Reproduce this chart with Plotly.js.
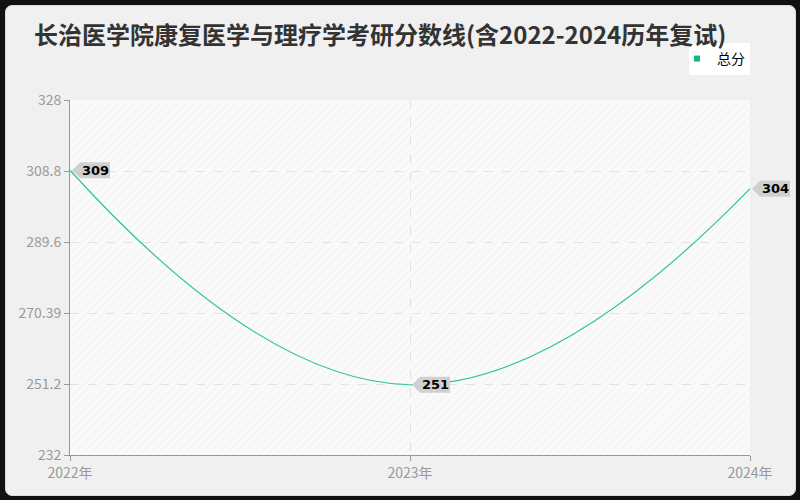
<!DOCTYPE html>
<html><head><meta charset="utf-8">
<script src="https://cdn.plot.ly/plotly-3.0.1.min.js"></script>
<style>
html,body{margin:0;padding:0;background:#111;width:800px;height:500px;overflow:hidden}
#card{position:absolute;left:5px;top:5px;width:789px;height:489px;background:#f0f0f0;border:1px solid #ddd;border-radius:7px}
#chart{position:absolute;left:0;top:0;width:800px;height:500px}
</style></head>
<body><div id="card"></div><div id="chart"></div>
<script>
const years = [2022, 2023, 2024];
const yearLabels = ['2022年', '2023年', '2024年'];
const scores = [309, 251, 304];
const seriesName = '总分';
const yTicks = [232, 251.2, 270.39, 289.6, 308.8, 328];
const yTickText = ['232', '251.2', '270.39', '289.6', '308.8', '328'];

const lineColor = '#2fc597';
const font = 'Noto Sans CJK SC, Noto Sans, sans-serif';
const xRange = [years[0], years[years.length - 1]];

const hatch = 'data:image/svg+xml;utf8,' + encodeURIComponent(
 '<svg xmlns="http://www.w3.org/2000/svg" width="680" height="355">' +
 '<defs><pattern id="p" width="6" height="6" patternUnits="userSpaceOnUse" patternTransform="rotate(45)">' +
 '<rect width="6" height="6" fill="#fafafa"/><line x1="0" y1="0" x2="0" y2="6" stroke="#ececec" stroke-width="1"/></pattern></defs>' +
 '<rect width="680" height="355" fill="url(#p)"/></svg>');

const traces = [
 {x: years, y: scores, mode: 'lines', line: {color: lineColor, width: 1.2, shape: 'spline', smoothing: 1.3},
  showlegend: false, hoverinfo: 'skip'},
 {x: [null], y: [null], mode: 'markers', name: seriesName,
  marker: {symbol: 'square', size: 6, color: '#1ab587'}, showlegend: true}
];

const annotations = [];
const shapes = [];
years.forEach((yr, i) => {
 shapes.push({type: 'path', xref: 'paper', yref: 'y', xsizemode: 'pixel', ysizemode: 'pixel',
  xanchor: (yr - xRange[0]) / (xRange[1] - xRange[0]), yanchor: scores[i],
  path: 'M2,0 L10,8 L40,8 L40,-8 L10,-8 Z',
  fillcolor: '#d0d0d0', line: {width: 0}, layer: 'above'});
 annotations.push({x: yr, y: scores[i], xref: 'x', yref: 'y', text: '<b>' + scores[i] + '</b>', showarrow: false,
  xanchor: 'center', yanchor: 'middle', xshift: 25, yshift: 0,
  font: {family: 'DejaVu Sans, sans-serif', size: 13, color: '#000'}});
});

const layout = {
 width: 800, height: 500,
 paper_bgcolor: 'rgba(0,0,0,0)', plot_bgcolor: '#fafafa',
 margin: {l: 70, r: 50, t: 100, b: 45},
 title: {text: '<b>长治医学院康复医学与理疗学考研分数线(含2022-2024历年复试)</b>', x: 34/800, xanchor: 'left',
  xref: 'container', yref: 'container', y: 1 - 36/500, yanchor: 'middle',
  font: {family: font, size: 24, color: '#333'}},
 font: {family: font},
 xaxis: {range: xRange, tickvals: years, ticktext: yearLabels, showgrid: true, gridcolor: '#e2e2e2',
  griddash: 'dash', zeroline: false, showline: true, linecolor: '#999', ticks: 'outside', ticklen: 5,
  tickcolor: '#999', tickfont: {size: 14, color: '#999', family: font}, fixedrange: true},
 yaxis: {range: [232, 328], tickvals: yTicks, ticktext: yTickText, showgrid: true, gridcolor: '#e2e2e2',
  griddash: 'dash', zeroline: false, showline: true, linecolor: '#999', ticks: 'outside', ticklen: 5,
  tickcolor: '#999', tickfont: {size: 14, color: '#999', family: font}, fixedrange: true},
 legend: {x: 1, xanchor: 'right', y: (455 - 43) / 355, yanchor: 'top', bgcolor: '#fff',
  font: {family: font, size: 14, color: '#000'}, itemwidth: 30, tracegroupgap: 0,
  indentation: -12},
 images: [{source: hatch, xref: 'paper', yref: 'paper', x: 0, y: 1, sizex: 1, sizey: 1,
  sizing: 'stretch', layer: 'below', xanchor: 'left', yanchor: 'top'}],
 shapes: shapes,
 annotations: annotations
};

Plotly.newPlot('chart', traces, layout, {displayModeBar: false, staticPlot: true});
</script></body></html>
